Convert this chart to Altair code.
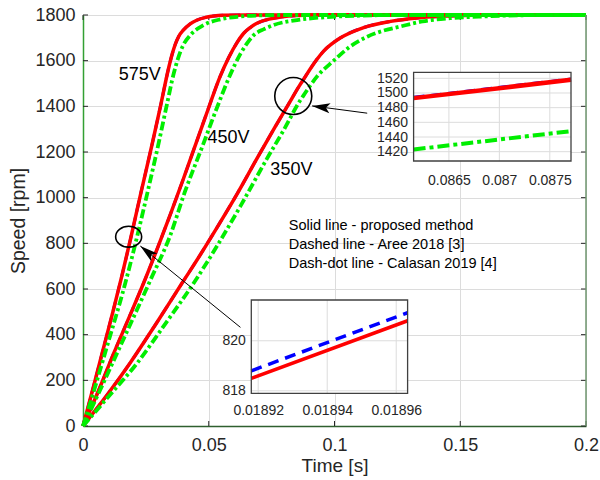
import altair as alt
import pandas as pd

FONT = "Liberation Sans"
W, H = 503, 411

# ---------------- main curves (time [s], speed [rpm]) ----------------
t575_red = [0, 0.004, 0.008, 0.012, 0.0155, 0.0189, 0.023, 0.0275, 0.0308, 0.0341, 0.0355, 0.0367, 0.038, 0.040, 0.0425, 0.0454, 0.049, 0.052, 0.056, 0.065, 0.2]
v575_red = [0, 165, 335, 505, 660, 819, 1020, 1235, 1400, 1570, 1630, 1672, 1705, 1735, 1760, 1778, 1790, 1796, 1799, 1800, 1800]
t575_green = [0, 0.0045, 0.0095, 0.0168, 0.0215, 0.026, 0.0301, 0.0334, 0.0361, 0.0378, 0.0395, 0.0427, 0.048, 0.0546, 0.062, 0.07, 0.08, 0.2]
v575_green = [0, 160, 347, 625, 829, 1040, 1240, 1410, 1545, 1610, 1660, 1712, 1756, 1781, 1793, 1798, 1800, 1800]

t450_red = [0, 0.006, 0.0122, 0.0185, 0.0248, 0.030, 0.035, 0.040, 0.045, 0.050, 0.0545, 0.058, 0.0613, 0.0639, 0.0665, 0.0692, 0.074, 0.0785, 0.085, 0.092, 0.2]
v450_red = [0, 150, 318, 480, 645, 790, 935, 1085, 1240, 1395, 1530, 1615, 1680, 1720, 1745, 1764, 1782, 1791, 1798, 1800, 1800]
t450_green = [0, 0.0065, 0.0135, 0.0268, 0.0347, 0.0405, 0.0473, 0.0533, 0.0586, 0.0626, 0.0655, 0.0679, 0.072, 0.0758, 0.0851, 0.0957, 0.11, 0.125, 0.2]
v450_green = [0, 150, 318, 639, 835, 1025, 1220, 1395, 1540, 1630, 1680, 1712, 1738, 1756, 1778, 1790, 1797, 1800, 1800]

t350_red = [0, 0.01, 0.0188, 0.029, 0.0394, 0.0467, 0.054, 0.0613, 0.0692, 0.0765, 0.0818, 0.0862, 0.0877, 0.0904, 0.0957, 0.1024, 0.1116, 0.1223, 0.1329, 0.142, 0.155, 0.17, 0.2]
v350_red = [0, 142, 277, 447, 626, 751, 882, 1017, 1172, 1312, 1411, 1493, 1518, 1565, 1642, 1700, 1745, 1772, 1787, 1794, 1799, 1800, 1800]
t350_green = [0, 0.01, 0.0215, 0.033, 0.0445, 0.0535, 0.0626, 0.0732, 0.0798, 0.0862, 0.0877, 0.093, 0.0997, 0.106, 0.113, 0.12, 0.126, 0.135, 0.146, 0.16, 0.175, 0.19, 0.2]
v350_green = [0, 127, 275, 452, 634, 792, 963, 1172, 1296, 1423, 1448, 1530, 1600, 1660, 1705, 1733, 1749, 1772, 1786, 1794, 1799, 1800, 1800]

# Aree 2018 (dashed blue) coincides with the proposed method at this scale
t575_blue, v575_blue = t575_red, v575_red
t450_blue, v450_blue = t450_red, v450_red
t350_blue, v350_blue = t350_red, v350_red

# ---------------- insets ----------------
in1_t = [0.08615, 0.08771]
in1_red = [1493, 1518]
in1_blue = [1493.7, 1518.7]
in1_green = [1423, 1448]
in1_xdom = [0.08615, 0.08771]
in1_ydom = [1407.3, 1528.2]
in1_xticks = [0.0865, 0.087, 0.0875]
in1_yticks = [1420, 1440, 1460, 1480, 1500, 1520]

in2_t = [0.018918, 0.0189633]
in2_red = [818.5, 820.8]
in2_blue = [818.8, 821.12]
in2_xdom = [0.018918, 0.0189633]
in2_ydom = [817.9, 821.63]
in2_xticks = [0.01892, 0.01894, 0.01896]
in2_yticks = [818, 820]

# ---------------- axes ticks ----------------
x_ticks = [0, 0.05, 0.1, 0.15, 0.2]
y_ticks = [0, 200, 400, 600, 800, 1000, 1200, 1400, 1600, 1800]

# ---------------- annotations ----------------
volt_labels = ["575V", "450V", "350V"]
volt_t = [0.0142, 0.0495, 0.0745]
volt_v = [1537, 1261, 1121]

legend_lines = ["Solid line - proposed method", "Dashed line - Aree 2018 [3]", "Dash-dot line - Calasan 2019 [4]"]
legend_t = [0.0818, 0.0818, 0.0818]
legend_v = [877, 793, 708]

circle_t = [0.0836]
circle_v = [1445]
ellipse_t = [0.01815]
ellipse_v = [829]

arrow_t0 = [0.1130, 0.0626]
arrow_v0 = [1370, 432]
arrow_t1 = [0.0911, 0.0228]
arrow_v1 = [1402, 788]
arrow_angle = [277.6, 309.1]

# ---------------- data frames ----------------
rows = []
curves = {
    ("red", "575"): (t575_red, v575_red), ("red", "450"): (t450_red, v450_red), ("red", "350"): (t350_red, v350_red),
    ("blue", "575"): (t575_blue, v575_blue), ("blue", "450"): (t450_blue, v450_blue), ("blue", "350"): (t350_blue, v350_blue),
    ("green", "575"): (t575_green, v575_green), ("green", "450"): (t450_green, v450_green), ("green", "350"): (t350_green, v350_green),
}
for (m, vlt), (ts, vs) in curves.items():
    for t, v in zip(ts, vs):
        rows.append({"method": m, "volt": vlt, "t": t, "speed": v})
df_main = pd.DataFrame(rows)

xs_main = alt.Scale(domain=[0, 0.2], nice=False, zero=False)
ys_main = alt.Scale(domain=[0, 1800], nice=False, zero=False)
ax_x = alt.Axis(values=x_ticks, format="~g", title="Time [s]", grid=True, gridColor="#dcdcdc", ticks=False,
                labelPadding=10, titlePadding=2, domainColor="#2f5f2f", domainWidth=1.5, labelFontSize=18,
                titleFontSize=19, labelFlush=False, labelColor="#262626", titleColor="#262626", labelFont=FONT,
                titleFont=FONT, titleFontWeight="normal", orient="bottom")
ax_y = alt.Axis(values=y_ticks, format="d", title="Speed [rpm]", grid=True, gridColor="#dcdcdc", ticks=False,
                labelPadding=8, titlePadding=6, domainColor="#33a033", domainWidth=1.5, labelFontSize=18,
                titleFontSize=19.5, labelFlush=False, labelColor="#262626", titleColor="#262626", labelFont=FONT,
                titleFont=FONT, titleFontWeight="normal", orient="left", labelOverlap=False)


def MX(f):
    return alt.X(f, type="quantitative", scale=xs_main, axis=ax_x)


def MY(f):
    return alt.Y(f, type="quantitative", scale=ys_main, axis=ax_y)


def curve(method, color, width, dash=None):
    kw = dict(color=color, strokeWidth=width, interpolate="monotone")
    if dash:
        kw["strokeDash"] = dash
    return alt.Chart(df_main).transform_filter(alt.datum.method == method).mark_line(**kw).encode(
        x=MX("t"), y=MY("speed"), detail="volt:N")


df_yt = pd.DataFrame({"speed": y_ticks})
df_xt = pd.DataFrame({"t": x_ticks})
ticks_l = alt.Chart(df_yt).mark_rule(color="#262626").encode(y=MY("speed"), x=alt.value(0), x2=alt.value(5))
ticks_r = alt.Chart(df_yt).mark_rule(color="#262626").encode(y=MY("speed"), x=alt.value(W - 5), x2=alt.value(W))
ticks_b = alt.Chart(df_xt).mark_rule(color="#262626").encode(x=MX("t"), y=alt.value(H - 5), y2=alt.value(H))
ticks_t = alt.Chart(df_xt).mark_rule(color="#262626").encode(x=MX("t"), y=alt.value(0), y2=alt.value(5))
right_edge = alt.Chart(pd.DataFrame({"t": [0.2]})).mark_rule(color="#6f966f", strokeWidth=1.5).encode(
    x=MX("t"), y=alt.value(0), y2=alt.value(H))

df_vl = pd.DataFrame({"t": volt_t, "speed": volt_v, "label": volt_labels})
volt_text = alt.Chart(df_vl).mark_text(align="left", baseline="middle", font=FONT, fontSize=18, color="black").encode(
    x=MX("t"), y=MY("speed"), text="label:N")
df_lg = pd.DataFrame({"t": legend_t, "speed": legend_v, "label": legend_lines})
legend_text = alt.Chart(df_lg).mark_text(align="left", baseline="middle", font=FONT, fontSize=14.5, color="black").encode(
    x=MX("t"), y=MY("speed"), text="label:N")

circle = alt.Chart(pd.DataFrame({"t": circle_t, "speed": circle_v})).mark_point(
    shape="circle", size=1369, filled=False, color="black", strokeWidth=1.6, opacity=1).encode(x=MX("t"), y=MY("speed"))
ellipse = alt.Chart(pd.DataFrame({"t": ellipse_t, "speed": ellipse_v})).mark_point(
    shape="M-1,0 A1,0.8 0 1,1 1,0 A1,0.8 0 1,1 -1,0 Z", size=676, filled=False, color="black", strokeWidth=1.6,
    opacity=1).encode(x=MX("t"), y=MY("speed"))

df_ar = pd.DataFrame({"t": arrow_t0, "speed": arrow_v0, "t2": arrow_t1, "speed2": arrow_v1, "ang": arrow_angle})
arrow_line = alt.Chart(df_ar).mark_rule(color="black", strokeWidth=1).encode(
    x=MX("t"), y=MY("speed"), x2="t2", y2="speed2")
arrow_head = alt.Chart(df_ar).mark_point(
    shape="M0,0 L0.55,2 L0,1.55 L-0.55,2 Z", size=324, filled=True, color="black", opacity=1).encode(
    x=MX("t2"), y=MY("speed2"), angle=alt.Angle("ang:Q", scale=None))

main = alt.layer(
    ticks_l, ticks_r, ticks_b, ticks_t,
    curve("blue", "#0000ff", 3, [11, 6]),
    curve("red", "#ff0000", 3.5),
    curve("green", "#00ee00", 3.8, [9, 3, 3, 3]),
    volt_text, legend_text, circle, ellipse, arrow_line, arrow_head, right_edge,
)


def inset(t, series, xdom, ydom, xrange_px, yrange_px, xticks, yticks, xpad):
    xs = alt.Scale(domain=xdom, range=xrange_px, nice=False, zero=False)
    ys = alt.Scale(domain=ydom, range=yrange_px, nice=False, zero=False)
    axx = alt.Axis(values=xticks, format="~g", title="", grid=False, ticks=False, domain=False, labelFontSize=14,
                   labelFont=FONT, labelColor="#262626", labelPadding=xpad, labelFlush=False, orient="bottom",
                   offset=-(H - yrange_px[0]), labelOverlap=False)
    axy = alt.Axis(values=yticks, format="d", title="", grid=False, ticks=False, domain=False, labelFontSize=14,
                   labelFont=FONT, labelColor="#262626", labelPadding=6, labelFlush=False, orient="left",
                   offset=-xrange_px[0], labelOverlap=False)

    def IX(f):
        return alt.X(f, type="quantitative", scale=xs, axis=axx)

    def IY(f):
        return alt.Y(f, type="quantitative", scale=ys, axis=axy)

    box = pd.DataFrame({"x0": [xdom[0]], "x1": [xdom[1]], "y0": [ydom[0]], "y1": [ydom[1]]})
    bg = alt.Chart(box).mark_rect(fill="white").encode(x=IX("x0"), x2="x1", y=IY("y0"), y2="y1")
    frame = alt.Chart(box).mark_rect(fill="white", fillOpacity=0, stroke="#404040", strokeWidth=1.3).encode(
        x=IX("x0"), x2="x1", y=IY("y0"), y2="y1")
    gx = pd.DataFrame({"x": xticks, "y0": ydom[0], "y1": ydom[1]})
    gy = pd.DataFrame({"y": yticks, "x0": xdom[0], "x1": xdom[1]})
    grid_x = alt.Chart(gx).mark_rule(color="#dcdcdc").encode(x=IX("x"), y=IY("y0"), y2="y1")
    grid_y = alt.Chart(gy).mark_rule(color="#dcdcdc").encode(y=IY("y"), x=IX("x0"), x2="x1")
    layers = [bg, grid_x, grid_y]
    for name, vals, color, width, dash in series:
        d = pd.DataFrame({"t": t, "speed": vals})
        kw = dict(color=color, strokeWidth=width, clip=False)
        if dash:
            kw["strokeDash"] = dash
        layers.append(alt.Chart(d).mark_line(**kw).encode(x=IX("t"), y=IY("speed")))
    layers.append(frame)
    return alt.layer(*layers)


inset1 = inset(in1_t,
               [("blue", in1_blue, "#0000ff", 3.5, [11, 6]), ("red", in1_red, "#ff0000", 4.5, None),
                ("green", in1_green, "#00ee00", 4, [12, 4, 4, 4])],
               in1_xdom, in1_ydom, [330.6, 488.0], [146.0, 57.3], in1_xticks, in1_yticks, 12)
inset2 = inset(in2_t,
               [("blue", in2_blue, "#0000ff", 3.5, [11, 7]), ("red", in2_red, "#ff0000", 3.5, None)],
               in2_xdom, in2_ydom, [168.3, 324.6], [378.3, 285.0], in2_xticks, in2_yticks, 10)

chart = alt.layer(main, inset1, inset2).resolve_scale(x="independent", y="independent").properties(
    width=W, height=H, autosize=alt.AutoSizeParams(type="none"),
    padding={"left": 83, "top": 15, "right": 14, "bottom": 54},
).configure_view(stroke="black", strokeWidth=1).configure(background="white")

chart.save("out.html", embed_options={"renderer": "svg", "actions": False})
